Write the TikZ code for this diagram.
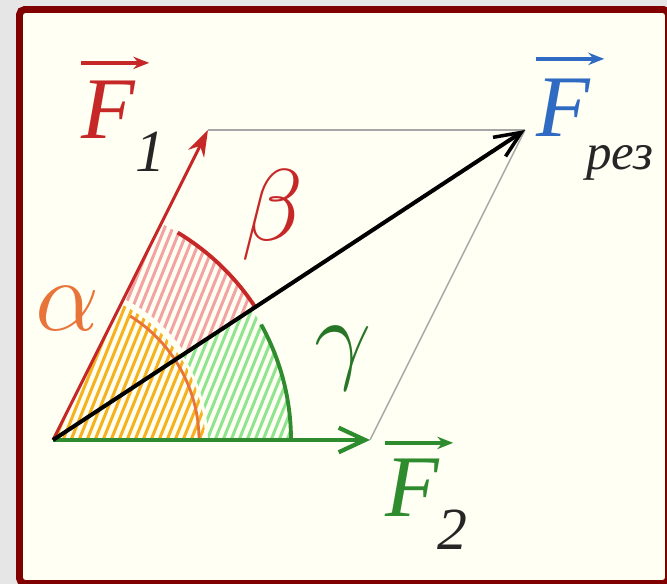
\documentclass[tikz,border=0pt]{standalone}
\usepackage{fix-cm}
\usepackage{fontspec}
\setmainfont{Liberation Serif}
\usetikzlibrary{arrows.meta, calc}
\definecolor{framered}{HTML}{800000}
\definecolor{paper}{HTML}{FFFFF3}
\definecolor{outside}{HTML}{E6E6E6}
\definecolor{forceone}{HTML}{C62828}
\definecolor{forcetwo}{HTML}{2E8B2E}
\definecolor{resblue}{HTML}{2F6BC2}
\definecolor{alphaor}{HTML}{E8743A}
\definecolor{hatchor}{HTML}{F5B21E}
\definecolor{hatchpink}{HTML}{F4A3A3}
\definecolor{hatchgreen}{HTML}{8FE58F}

\begin{document}
\begin{tikzpicture}[x=0.02cm, y=0.02cm,
    hatch/.style={line width=1.7pt},
    edge/.style={gray!70, line width=1.6pt},
    vecone/.style={forceone, line width=1.7pt, -{Stealth[length=15pt, width=10pt]}},
    vectwo/.style={forcetwo, line width=2.8pt, -{Straight Barb[length=15pt, width=14pt, line width=2.4pt]}},
    vecres/.style={black, line width=2.3pt, -{Straight Barb[length=15pt, width=13pt, line width=2pt]}},
    anglearc/.style={line width=2.2pt},
    sym/.style={font=\fontsize{50}{50}\selectfont\itshape, inner sep=0pt},
    greek/.style={font=\fontsize{58}{58}\selectfont, inner sep=0pt},
    sub/.style={font=\fontsize{34}{34}\selectfont\itshape, text=black!85, inner sep=0pt},
    vecbar/.style={line width=2pt, -{Stealth[length=9pt, width=7pt]}}
  ]
  \useasboundingbox (0,0) rectangle (667,584);
  \fill[outside] (0,0) rectangle (667,584);
  \draw[framered, fill=paper, line width=3.97pt, rounded corners=3] (19.5,0.5) rectangle (668.5,574.5);

  \coordinate (O) at (53,144);
  \coordinate (P1) at (208,454);
  \coordinate (P2) at (370,144);
  \coordinate (R) at (525,454);

  % hatched angle regions
  \begin{scope}[shift={(O)}]
    \begin{scope}
      \clip (0,0) -- (0:152) arc[start angle=0, end angle=63.4, radius=152] -- cycle;
      \foreach \k in {-14,...,34}
        \draw[hatch, hatchor] ({8*\k},-5) -- ++(68:280);
    \end{scope}
    \begin{scope}
      \clip (0:155) -- (0:238) arc[start angle=0, end angle=33.4, radius=238]
        -- (33.4:155) arc[start angle=33.4, end angle=0, radius=155] -- cycle;
      \foreach \k in {-14,...,34}
        \draw[hatch, hatchgreen] ({8*\k},-5) -- ++(68:280);
    \end{scope}
    \begin{scope}
      \clip (33.4:158) -- (33.4:242) arc[start angle=33.4, end angle=63.4, radius=242]
        -- (63.4:158) arc[start angle=63.4, end angle=33.4, radius=158] -- cycle;
      \foreach \k in {-14,...,34}
        \draw[hatch, hatchpink] ({8*\k},-5) -- ++(68:280);
    \end{scope}

    \draw[anglearc, alphaor, line width=1.6pt] (0:146) arc[start angle=0, end angle=58, radius=146];
    \draw[anglearc, forcetwo] (0:238) arc[start angle=0, end angle=29, radius=238];
    \draw[anglearc, forceone] (33.4:242) arc[start angle=33.4, end angle=59, radius=242];
  \end{scope}

  \draw[edge] (P1) -- (R);
  \draw[edge, line width=0.8pt] (P2) -- (R);

  \draw[vectwo] (O) -- (P2);
  \draw[vecone] (O) -- (P1);
  \draw[vecres] (O) -- (R);

  \node[sym, forceone] (lblF1) at (108,474) {F};
  \node[sub] (sub1) at (150,432) {1};
  \node[sym, resblue] (lblFR) at (563,476) {F};
  \node[sub, anchor=base west, font=\fontsize{29}{29}\selectfont\itshape] (subR) at (586,414) {рез};
  \node[sym, forcetwo] (lblF2) at (412,96) {F};
  \node[sub] (sub2) at (452,54) {2};

  \draw[vecbar, forceone] ($(lblF1.north west)+(0,18)$) -- ($(lblF1.north east)+(14,18)$);
  \draw[vecbar, resblue] ($(lblFR.north west)+(0,20)$) -- ($(lblFR.north east)+(14,20)$);
  \draw[vecbar, forcetwo] ($(lblF2.north west)+(0,16)$) -- ($(lblF2.north east)+(14,16)$);

  \node[greek, alphaor] (alpha) at (68,275) {$\alpha$};
  \node[greek, forceone] (beta) at (272,369) {$\beta$};
  \node[greek, forcetwo!85!black] (gamma) at (343,226) {$\gamma$};
\end{tikzpicture}
\end{document}
